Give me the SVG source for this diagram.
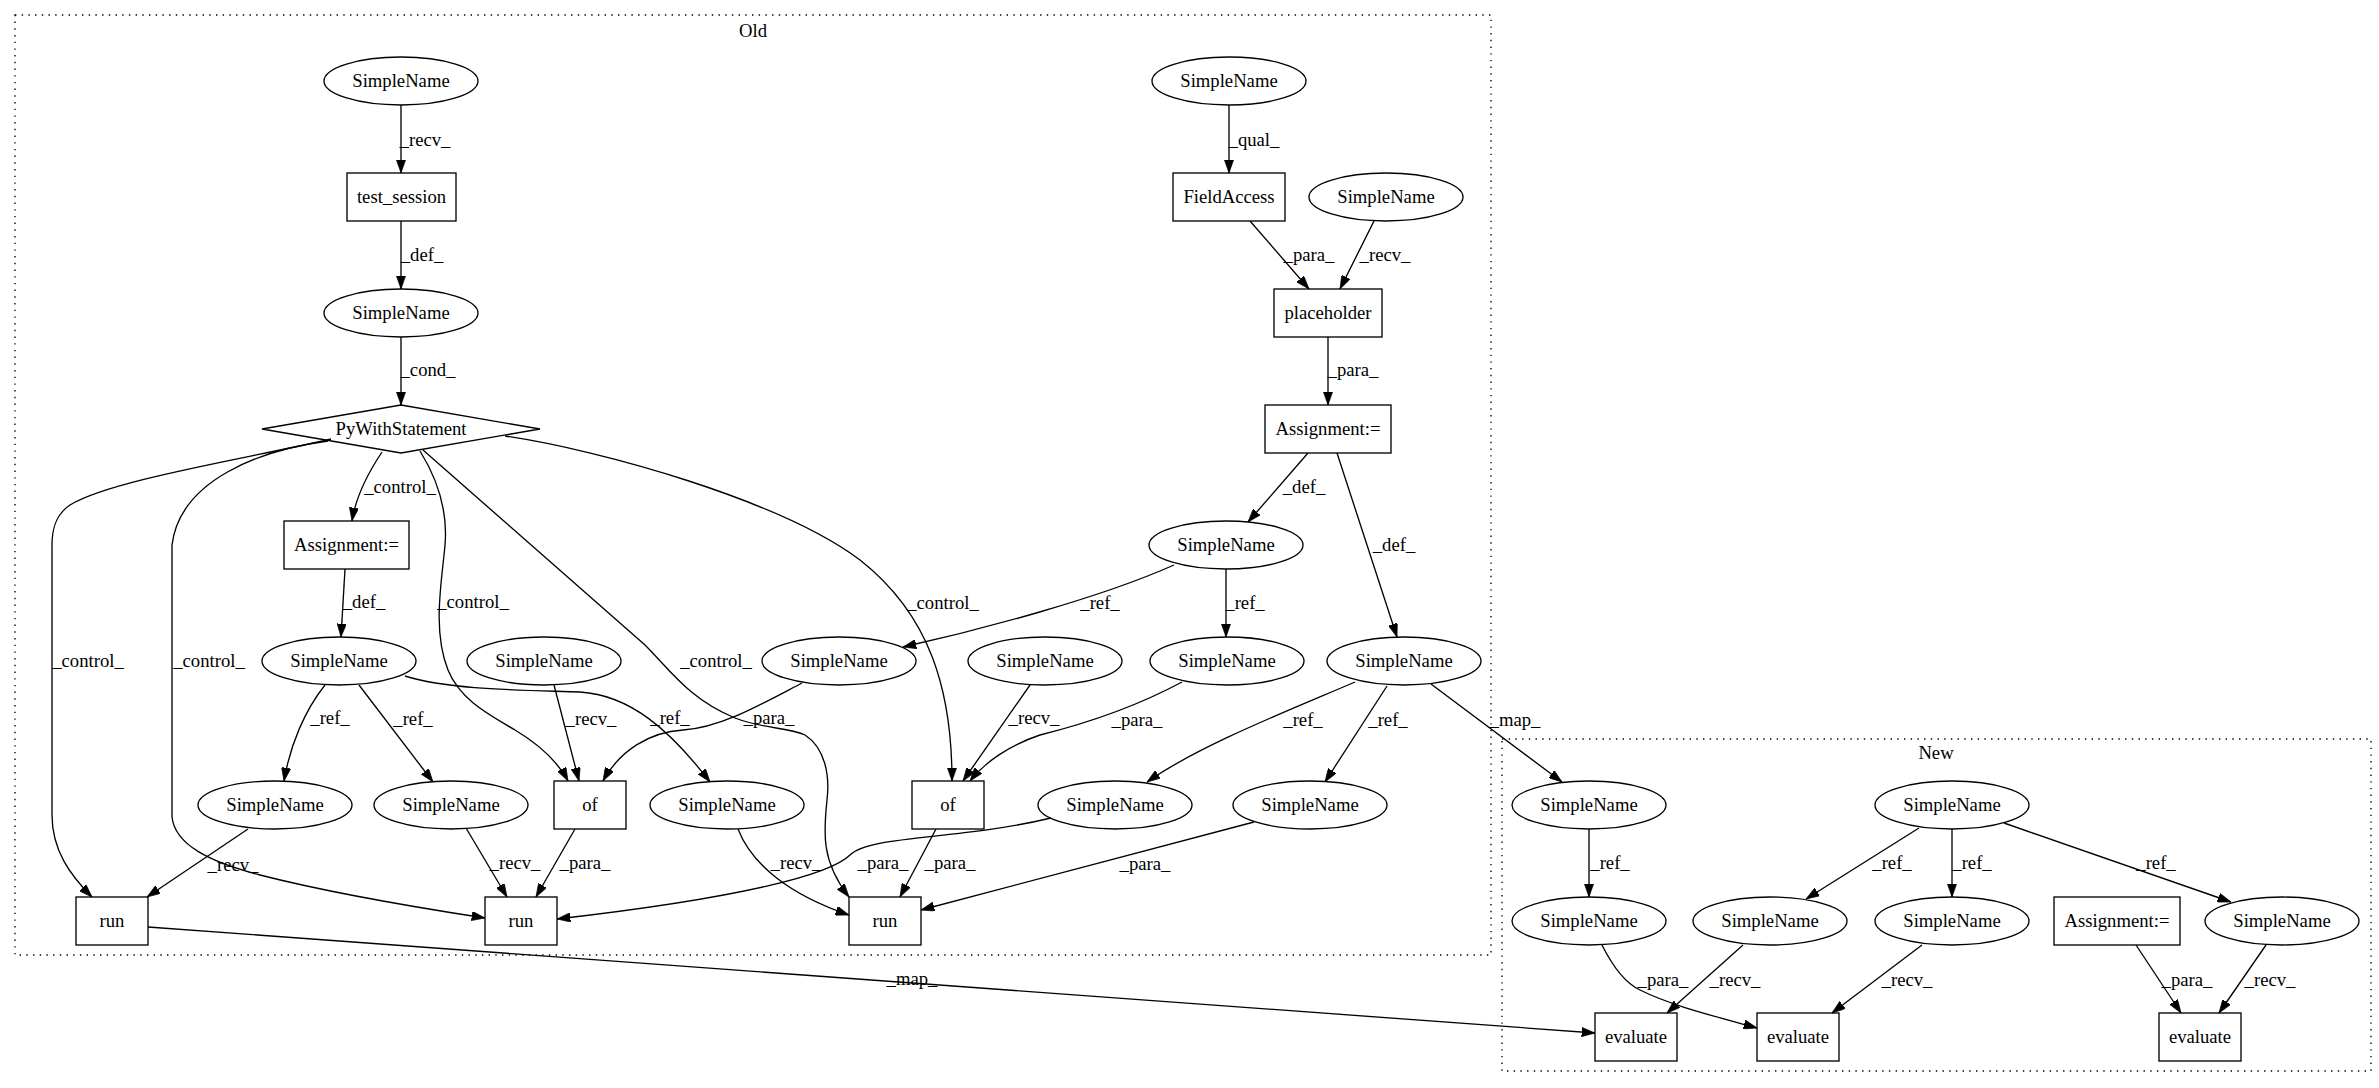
<svg xmlns="http://www.w3.org/2000/svg" width="2379" height="1088" viewBox="0 0 2379 1088">
<style>
text{font-family:"Liberation Serif","Times New Roman",serif;font-size:18.67px;fill:#000}
.n text,.lbl{text-anchor:middle}
.n ellipse,.n rect,.n polygon{fill:none;stroke:#000;stroke-width:1.33}
.e path{fill:none;stroke:#000;stroke-width:1.33;marker-end:url(#arr)}
.cl{fill:none;stroke:#000;stroke-width:1.33;stroke-dasharray:1.4,5.3}
</style>
<defs>
<marker id="arr" viewBox="0 0 10 7" refX="10" refY="3.5" markerWidth="13.3" markerHeight="9.3" markerUnits="userSpaceOnUse" orient="auto">
<path d="M0,0 L10,3.5 L0,7 z" fill="#000" stroke="#000" stroke-width="0.5"/>
</marker>
</defs>
<rect width="2379" height="1088" fill="#fff"/>
<g id="cluster_old">
<rect class="cl" x="15" y="15" width="1476" height="940"/>
<text x="753" y="37" text-anchor="middle">Old</text>
</g>
<g id="cluster_new">
<rect class="cl" x="1502" y="739" width="869" height="332"/>
<text x="1936" y="759" text-anchor="middle">New</text>
</g>
<g id="edges" class="e">
<path d="M401,105 L401,173"/>
<path d="M401,221 L401,289"/>
<path d="M401,337 L401,405"/>
<path d="M1229,105 L1229,173"/>
<path d="M1250,221 L1309,289"/>
<path d="M1374,221 L1340,289"/>
<path d="M1328,337 L1328,405"/>
<path d="M1308,453 L1248,522"/>
<path d="M1337,453 L1397,637"/>
<path d="M382,452 C370,470 356,495 352,521"/>
<path d="M345,569 L341,637"/>
<path d="M420,451 C438,480 448,510 445,545 C442,580 432,630 448,670 C460,700 490,715 515,730 C540,745 558,762 568,781"/>
<path d="M331,439 C250,458 110,480 70,505 C55,515 52,530 52,545 L52,815 C52,850 70,875 92,897"/>
<path d="M328,441 C260,450 180,480 172,545 L172,817 C175,845 210,862 260,875 C330,893 420,908 485,918"/>
<path d="M423,450 L645,645 C670,670 690,700 735,718 C760,728 790,728 805,735 C825,748 830,775 827,800 C824,830 820,860 849,897"/>
<path d="M505,436 C600,450 780,500 860,560 C930,615 952,690 952,781"/>
<path d="M1174,565 C1100,598 980,630 903,647"/>
<path d="M1226,569 L1226,637"/>
<path d="M325,685 C305,710 290,745 284,781"/>
<path d="M359,685 L433,782"/>
<path d="M405,676 C450,690 520,690 580,692 C630,695 670,730 710,782"/>
<path d="M554,685 L579,781"/>
<path d="M802,683 C760,705 720,728 683,730 C650,732 620,750 603,781"/>
<path d="M1030,685 L963,781"/>
<path d="M1182,682 C1130,710 1080,725 1040,735 C1010,745 985,762 970,781"/>
<path d="M1355,682 C1290,710 1200,745 1147,782"/>
<path d="M1387,686 L1325,782"/>
<path d="M1431,684 L1562,782"/>
<path d="M248,829 L147,897"/>
<path d="M466,828 L507,897"/>
<path d="M575,829 L536,897"/>
<path d="M738,829 C752,865 790,895 849,915"/>
<path d="M936,829 L900,897"/>
<path d="M1051,818 C960,840 870,835 850,855 C830,875 740,898 557,919"/>
<path d="M1254,822 L921,910"/>
<path d="M148,927 L1595,1033"/>
<path d="M1589,829 L1589,897"/>
<path d="M1919,828 L1806,899"/>
<path d="M1952,829 L1952,897"/>
<path d="M2004,823 L2231,902"/>
<path d="M1602,945 C1612,965 1625,983 1640,990 C1670,1005 1710,1015 1757,1028"/>
<path d="M1743,945 L1667,1013"/>
<path d="M1922,945 L1832,1013"/>
<path d="M2136,945 L2181,1013"/>
<path d="M2266,945 L2219,1013"/>
</g>
<g id="edge_labels" class="lbl">
<text x="425" y="146">_recv_</text>
<text x="422" y="261">_def_</text>
<text x="428" y="376">_cond_</text>
<text x="1254" y="146">_qual_</text>
<text x="1309" y="261">_para_</text>
<text x="1385" y="261">_recv_</text>
<text x="1353" y="376">_para_</text>
<text x="1304" y="493">_def_</text>
<text x="1394" y="551">_def_</text>
<text x="400" y="493">_control_</text>
<text x="364" y="608">_def_</text>
<text x="473" y="608">_control_</text>
<text x="943" y="609">_control_</text>
<text x="88" y="667">_control_</text>
<text x="209" y="667">_control_</text>
<text x="716" y="667">_control_</text>
<text x="1100" y="609">_ref_</text>
<text x="1245" y="609">_ref_</text>
<text x="330" y="724">_ref_</text>
<text x="413" y="725">_ref_</text>
<text x="591" y="725">_recv_</text>
<text x="670" y="724">_ref_</text>
<text x="769" y="724">_para_</text>
<text x="1034" y="724">_recv_</text>
<text x="1137" y="726">_para_</text>
<text x="1303" y="726">_ref_</text>
<text x="1388" y="726">_ref_</text>
<text x="1515" y="726">_map_</text>
<text x="233" y="871">_recv_</text>
<text x="515" y="869">_recv_</text>
<text x="585" y="869">_para_</text>
<text x="796" y="869">_recv_</text>
<text x="883" y="869">_para_</text>
<text x="950" y="869">_para_</text>
<text x="1145" y="870">_para_</text>
<text x="912" y="985">_map_</text>
<text x="1610" y="869">_ref_</text>
<text x="1892" y="869">_ref_</text>
<text x="1972" y="869">_ref_</text>
<text x="2156" y="869">_ref_</text>
<text x="1663" y="986">_para_</text>
<text x="1735" y="986">_recv_</text>
<text x="1907" y="986">_recv_</text>
<text x="2187" y="986">_para_</text>
<text x="2270" y="986">_recv_</text>
</g>
<g id="n_sn_a" class="n"><ellipse cx="401" cy="81" rx="77" ry="24"/><text x="401" y="87">SimpleName</text></g>
<g id="n_test_session" class="n"><rect x="347" y="173" width="109" height="48"/><text x="401.5" y="203">test_session</text></g>
<g id="n_sn_b" class="n"><ellipse cx="401" cy="313" rx="77" ry="24"/><text x="401" y="319">SimpleName</text></g>
<g id="n_pywith" class="n"><polygon points="401,405 540,429 401,453 262,429"/><text x="401" y="435">PyWithStatement</text></g>
<g id="n_sn_c" class="n"><ellipse cx="1229" cy="81" rx="77" ry="24"/><text x="1229" y="87">SimpleName</text></g>
<g id="n_fieldaccess" class="n"><rect x="1173" y="173" width="112" height="48"/><text x="1229" y="203">FieldAccess</text></g>
<g id="n_sn_d" class="n"><ellipse cx="1386" cy="197" rx="77" ry="24"/><text x="1386" y="203">SimpleName</text></g>
<g id="n_placeholder" class="n"><rect x="1274" y="289" width="108" height="48"/><text x="1328" y="319">placeholder</text></g>
<g id="n_assign_r" class="n"><rect x="1265" y="405" width="126" height="48"/><text x="1328" y="435">Assignment:=</text></g>
<g id="n_assign_l" class="n"><rect x="284" y="521" width="125" height="48"/><text x="346.5" y="551">Assignment:=</text></g>
<g id="n_sn_e" class="n"><ellipse cx="1226" cy="545" rx="77" ry="24"/><text x="1226" y="551">SimpleName</text></g>
<g id="n_sn_l" class="n"><ellipse cx="339" cy="661" rx="77" ry="24"/><text x="339" y="667">SimpleName</text></g>
<g id="n_sn_m" class="n"><ellipse cx="544" cy="661" rx="77" ry="24"/><text x="544" y="667">SimpleName</text></g>
<g id="n_sn_g" class="n"><ellipse cx="839" cy="661" rx="77" ry="24"/><text x="839" y="667">SimpleName</text></g>
<g id="n_sn_h" class="n"><ellipse cx="1045" cy="661" rx="77" ry="24"/><text x="1045" y="667">SimpleName</text></g>
<g id="n_sn_i" class="n"><ellipse cx="1227" cy="661" rx="77" ry="24"/><text x="1227" y="667">SimpleName</text></g>
<g id="n_sn_f" class="n"><ellipse cx="1404" cy="661" rx="77" ry="24"/><text x="1404" y="667">SimpleName</text></g>
<g id="n_sn_n" class="n"><ellipse cx="275" cy="805" rx="77" ry="24"/><text x="275" y="811">SimpleName</text></g>
<g id="n_sn_o" class="n"><ellipse cx="451" cy="805" rx="77" ry="24"/><text x="451" y="811">SimpleName</text></g>
<g id="n_of1" class="n"><rect x="554" y="781" width="72" height="48"/><text x="590" y="811">of</text></g>
<g id="n_sn_p" class="n"><ellipse cx="727" cy="805" rx="77" ry="24"/><text x="727" y="811">SimpleName</text></g>
<g id="n_of2" class="n"><rect x="912" y="781" width="72" height="48"/><text x="948" y="811">of</text></g>
<g id="n_sn_j" class="n"><ellipse cx="1115" cy="805" rx="77" ry="24"/><text x="1115" y="811">SimpleName</text></g>
<g id="n_sn_k" class="n"><ellipse cx="1310" cy="805" rx="77" ry="24"/><text x="1310" y="811">SimpleName</text></g>
<g id="n_run1" class="n"><rect x="76" y="897" width="72" height="48"/><text x="112" y="927">run</text></g>
<g id="n_run2" class="n"><rect x="485" y="897" width="72" height="48"/><text x="521" y="927">run</text></g>
<g id="n_run3" class="n"><rect x="849" y="897" width="72" height="48"/><text x="885" y="927">run</text></g>
<g id="n_sn_q" class="n"><ellipse cx="1589" cy="805" rx="77" ry="24"/><text x="1589" y="811">SimpleName</text></g>
<g id="n_sn_r" class="n"><ellipse cx="1952" cy="805" rx="77" ry="24"/><text x="1952" y="811">SimpleName</text></g>
<g id="n_sn_s" class="n"><ellipse cx="1589" cy="921" rx="77" ry="24"/><text x="1589" y="927">SimpleName</text></g>
<g id="n_sn_t" class="n"><ellipse cx="1770" cy="921" rx="77" ry="24"/><text x="1770" y="927">SimpleName</text></g>
<g id="n_sn_u" class="n"><ellipse cx="1952" cy="921" rx="77" ry="24"/><text x="1952" y="927">SimpleName</text></g>
<g id="n_assign_n" class="n"><rect x="2054" y="897" width="126" height="48"/><text x="2117" y="927">Assignment:=</text></g>
<g id="n_sn_v" class="n"><ellipse cx="2282" cy="921" rx="77" ry="24"/><text x="2282" y="927">SimpleName</text></g>
<g id="n_eval1" class="n"><rect x="1595" y="1013" width="82" height="48"/><text x="1636" y="1043">evaluate</text></g>
<g id="n_eval2" class="n"><rect x="1757" y="1013" width="82" height="48"/><text x="1798" y="1043">evaluate</text></g>
<g id="n_eval3" class="n"><rect x="2159" y="1013" width="82" height="48"/><text x="2200" y="1043">evaluate</text></g>
</svg>
